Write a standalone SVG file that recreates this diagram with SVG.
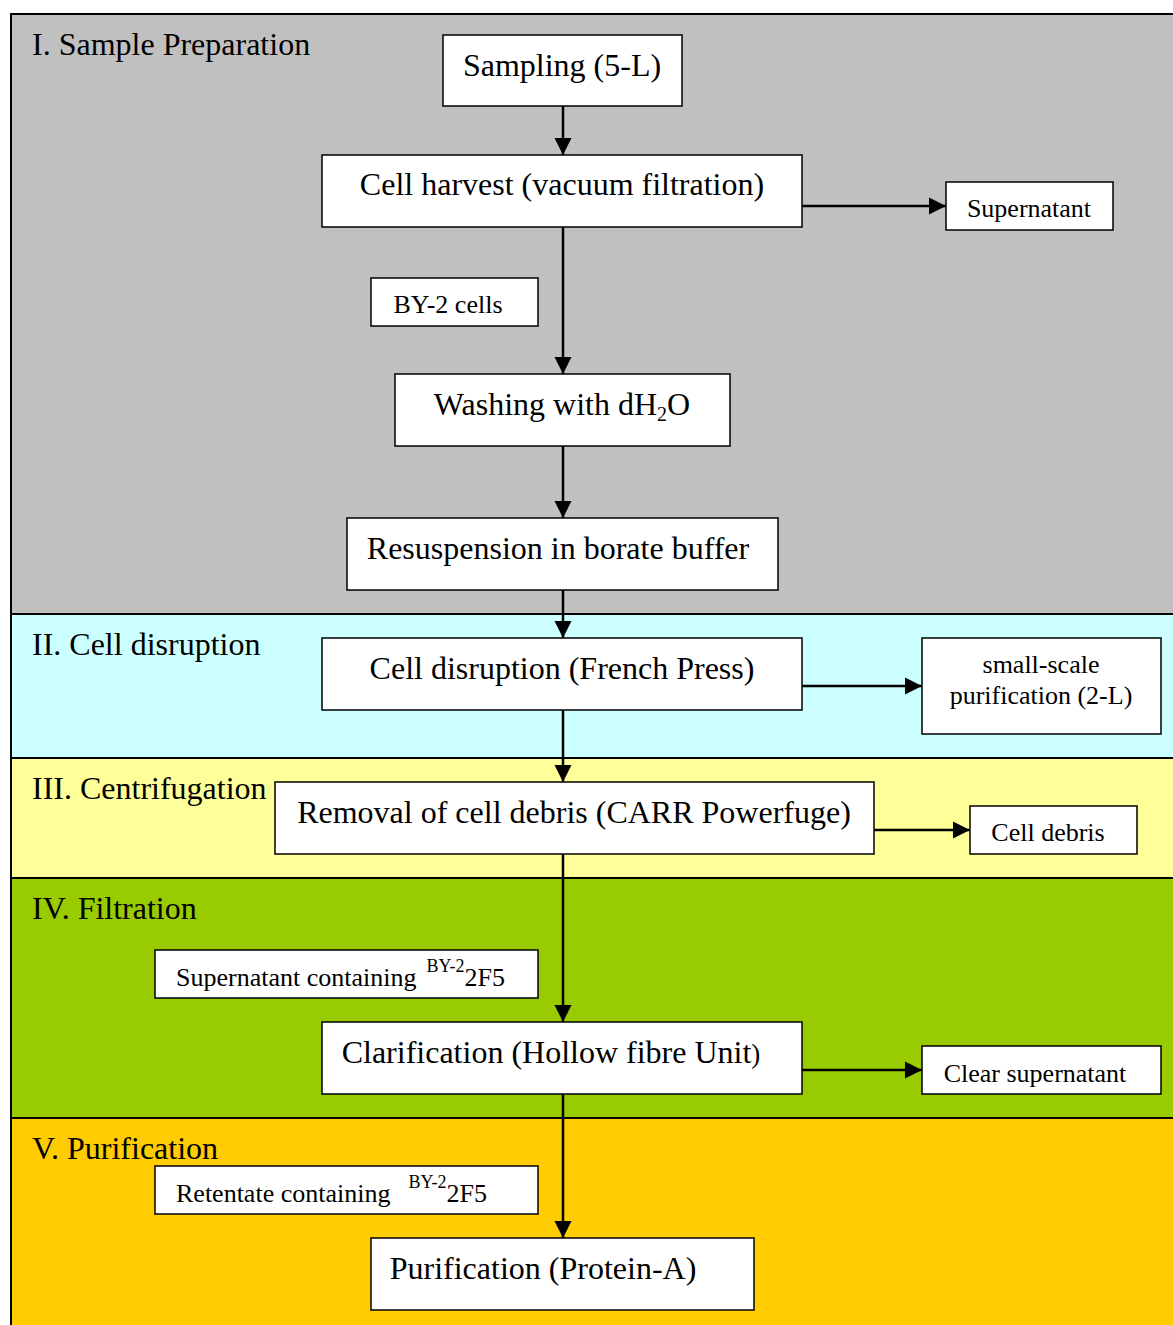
<svg xmlns="http://www.w3.org/2000/svg" width="1173" height="1325" viewBox="0 0 1173 1325">
<style>
.band{stroke:#000;stroke-width:2}
.box{fill:#fff;stroke:#000;stroke-width:1.5}
.t{font-family:"Liberation Serif","Times New Roman",serif;fill:#000}
.big{font-size:32px}
.sm{font-size:26px}
.lbl{font-size:32px}
.c{text-anchor:middle}
.ln{stroke:#000;stroke-width:2.5;fill:none}
.sup{font-size:18px}
</style>
<defs>
<marker id="ah" viewBox="0 0 10 10" refX="10" refY="5" markerWidth="7" markerHeight="7" markerUnits="strokeWidth" orient="auto">
<path d="M0,0 L10,5 L0,10 z" fill="#000"/>
</marker>
</defs>
<rect width="1173" height="1325" fill="#fff"/>
<g id="bands">
<rect class="band" x="11" y="14" width="1170" height="600" fill="#C0C0C0"/>
<rect class="band" x="11" y="614" width="1170" height="144" fill="#CCFFFF"/>
<rect class="band" x="11" y="758" width="1170" height="120" fill="#FFFF99"/>
<rect class="band" x="11" y="878" width="1170" height="240" fill="#99CC00"/>
<rect class="band" x="11" y="1118" width="1170" height="220" fill="#FFCC00"/>
<text class="t lbl" x="32" y="55">I. Sample Preparation</text>
<text class="t lbl" x="32" y="655">II. Cell disruption</text>
<text class="t lbl" x="32" y="799">III. Centrifugation</text>
<text class="t lbl" x="32" y="919">IV. Filtration</text>
<text class="t lbl" x="32" y="1159">V. Purification</text>
</g>
<g id="connectors">
<line class="ln" x1="563" y1="106" x2="563" y2="155" marker-end="url(#ah)"/>
<line class="ln" x1="563" y1="227" x2="563" y2="374" marker-end="url(#ah)"/>
<line class="ln" x1="563" y1="446" x2="563" y2="518" marker-end="url(#ah)"/>
<line class="ln" x1="563" y1="590" x2="563" y2="638" marker-end="url(#ah)"/>
<line class="ln" x1="563" y1="710" x2="563" y2="782" marker-end="url(#ah)"/>
<line class="ln" x1="563" y1="854" x2="563" y2="1022" marker-end="url(#ah)"/>
<line class="ln" x1="563" y1="1094" x2="563" y2="1238" marker-end="url(#ah)"/>
<line class="ln" x1="802" y1="206" x2="946" y2="206" marker-end="url(#ah)"/>
<line class="ln" x1="802" y1="686" x2="922" y2="686" marker-end="url(#ah)"/>
<line class="ln" x1="874" y1="830" x2="970" y2="830" marker-end="url(#ah)"/>
<line class="ln" x1="802" y1="1070" x2="922" y2="1070" marker-end="url(#ah)"/>
</g>
<g id="sampling"><rect class="box" x="443" y="35" width="239" height="71"/><text class="t big c" x="562" y="76">Sampling (5-L)</text></g>
<g id="harvest"><rect class="box" x="322" y="155" width="480" height="72"/><text class="t big c" x="562" y="195">Cell harvest (vacuum filtration)</text></g>
<g id="supernatant"><rect class="box" x="946" y="182" width="167" height="48"/><text class="t sm c" x="1029" y="217">Supernatant</text></g>
<g id="by2cells"><rect class="box" x="371" y="278" width="167" height="48"/><text class="t sm c" x="448" y="313">BY-2 cells</text></g>
<g id="washing"><rect class="box" x="395" y="374" width="335" height="72"/><text class="t big c" x="562" y="415">Washing with dH<tspan font-size="20" dy="6">2</tspan><tspan dy="-6">O</tspan></text></g>
<g id="resuspension"><rect class="box" x="347" y="518" width="431" height="72"/><text class="t big c" x="558" y="559">Resuspension in borate buffer</text></g>
<g id="disruption"><rect class="box" x="322" y="638" width="480" height="72"/><text class="t big c" x="562" y="679">Cell disruption (French Press)</text></g>
<g id="smallscale"><rect class="box" x="922" y="638" width="239" height="96"/><text class="t sm c" x="1041" y="673">small-scale</text><text class="t sm c" x="1041" y="704">purification (2-L)</text></g>
<g id="removal"><rect class="box" x="275" y="782" width="599" height="72"/><text class="t big c" x="574" y="823">Removal of cell debris (CARR Powerfuge)</text></g>
<g id="celldebris"><rect class="box" x="970" y="806" width="167" height="48"/><text class="t sm c" x="1048" y="841">Cell debris</text></g>
<g id="supcontaining"><rect class="box" x="155" y="950" width="383" height="48"/><text class="t sm" x="176" y="986">Supernatant containing<tspan class="sup" dx="10" dy="-14">BY-2</tspan><tspan dy="14">2F5</tspan></text></g>
<g id="retentate"><rect class="box" x="155" y="1166" width="383" height="48"/><text class="t sm" x="176" y="1202">Retentate containing<tspan class="sup" dx="18" dy="-14">BY-2</tspan><tspan dy="14">2F5</tspan></text></g>
<g id="clarification"><rect class="box" x="322" y="1022" width="480" height="72"/><text class="t big c" x="551" y="1063">Clarification (Hollow fibre Unit<tspan font-size="27">)</tspan></text></g>
<g id="clearsup"><rect class="box" x="922" y="1046" width="239" height="48"/><text class="t sm c" x="1035" y="1082">Clear supernatant</text></g>
<g id="purification"><rect class="box" x="371" y="1238" width="383" height="72"/><text class="t big c" x="543" y="1279">Purification (Protein-A)</text></g>
</svg>
